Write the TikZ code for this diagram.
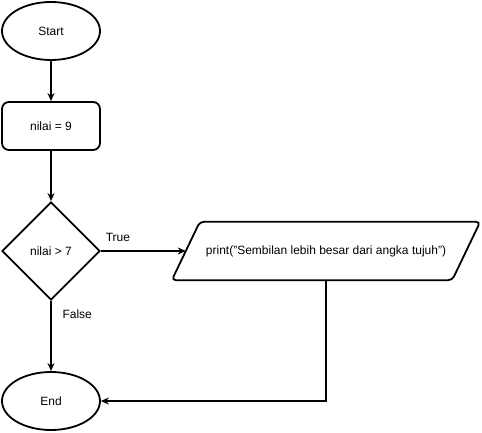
\documentclass[tikz,border=0pt]{standalone}
\usepackage{fontspec}
\setmainfont{Liberation Sans}
\usetikzlibrary{shapes.geometric,arrows.meta,calc}
\begin{document}
\begin{tikzpicture}[x=1pt,y=-1pt,
  base/.style={draw=black,line width=1.8pt,fill=white,font=\fontsize{12}{14}\selectfont,inner sep=0pt},
  term/.style={base,ellipse,minimum width=98pt,minimum height=58pt},
  procbox/.style={base,rectangle,rounded corners=7pt,minimum width=98pt,minimum height=48pt},
  decide/.style={base,diamond,minimum width=98pt,minimum height=98pt,aspect=1},
  iotext/.style={font=\fontsize{12}{14}\selectfont,inner sep=0pt,minimum width=280pt,minimum height=58pt},
  ioshape/.style={draw=black,line width=1.8pt,fill=white,rounded corners=4pt},
  conn/.style={draw=black,line width=1.1pt,-{Stealth[length=8pt,width=7pt,inset=2.5pt]}},
  lbl/.style={font=\fontsize{12}{14}\selectfont,inner sep=0pt}]
\useasboundingbox (0,0) rectangle (482,433);
\node[term] (s) at (51,31) {Start};
\node[procbox] (n) at (51,126) {nilai = 9};
\node[decide] (d) at (51,251) {nilai > 7};
\node[iotext] (p) at (326,251) {};
\draw[ioshape] ($(p.north west)+(14,0)$) -- ($(p.north east)+(14,0)$) -- ($(p.south east)+(-14,0)$) -- ($(p.south west)+(-14,0)$) -- cycle;
\node[iotext] at (p) {print("Sembilan lebih besar dari angka tujuh")};
\node[term] (e) at (51,401) {End};
\draw[conn] (s) -- (n);
\draw[conn] (n) -- (d);
\draw[conn] (d.east) -- node[lbl,pos=0.2,above=9pt] {True} (p.west);
\draw[conn] (d.south) -- node[lbl,pos=0.19,right=11pt] {False} (e.north);
\draw[conn] (p.south) |- (e.east);
\end{tikzpicture}
\end{document}
